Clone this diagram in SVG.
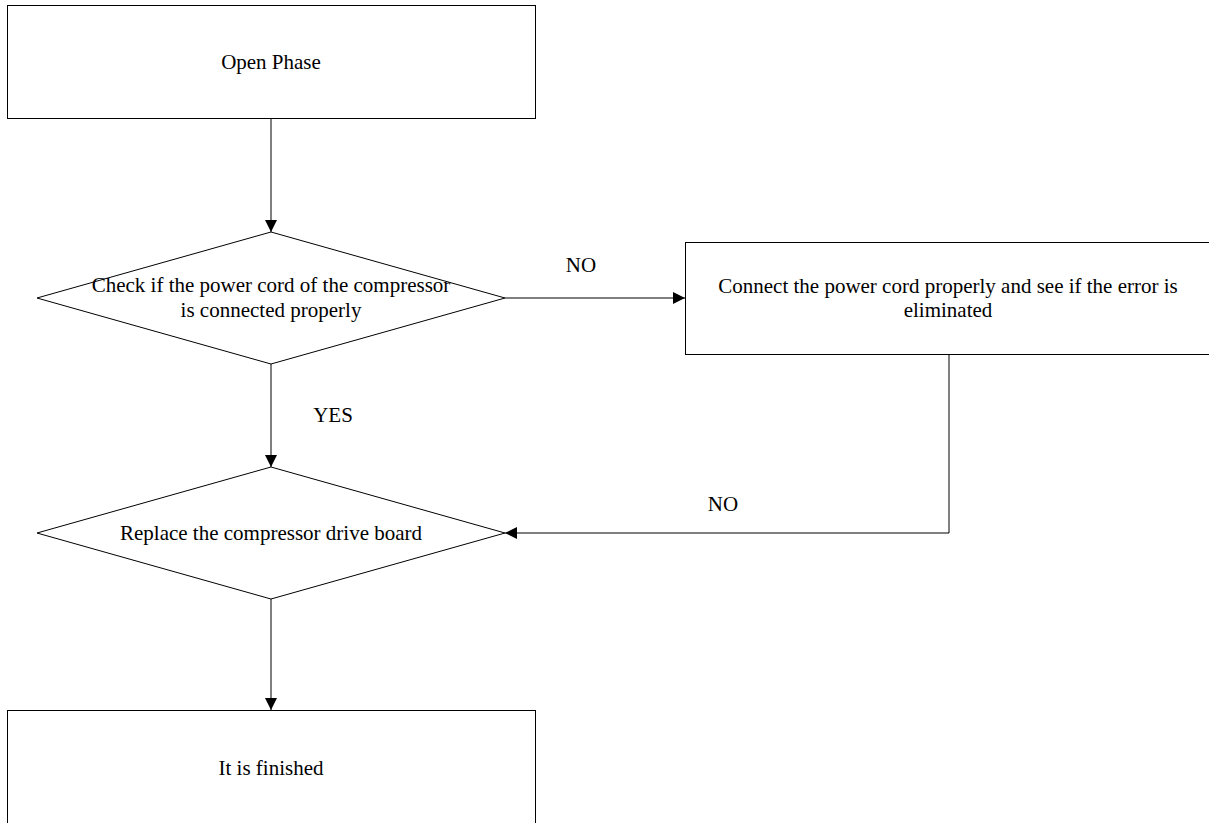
<svg xmlns="http://www.w3.org/2000/svg" width="1209" height="823" viewBox="0 0 1209 823">
<style>
.n{fill:#fff;stroke:#000;stroke-width:1}
.t{font-family:"Liberation Serif","Times New Roman",serif;font-size:21px;fill:#000;text-anchor:middle}
.c{fill:none;stroke:#000;stroke-width:1}
</style>
<defs>
<marker id="ah" markerWidth="12" markerHeight="12" refX="12" refY="6" orient="auto" markerUnits="userSpaceOnUse">
<path d="M0,0 L12,6 L0,12 Z" fill="#000"/>
</marker>
</defs>
<rect width="1209" height="823" fill="#fff"/>
<g id="connectors">
<line class="c" x1="271" y1="118" x2="271" y2="232" marker-end="url(#ah)"/>
<line class="c" x1="505" y1="298" x2="685" y2="298" marker-end="url(#ah)"/>
<line class="c" x1="271" y1="364" x2="271" y2="467" marker-end="url(#ah)"/>
<polyline class="c" points="949,354 949,533 505,533" marker-end="url(#ah)"/>
<line class="c" x1="271" y1="599" x2="271" y2="710" marker-end="url(#ah)"/>
<text class="t" x="581" y="272">NO</text>
<text class="t" x="333" y="422">YES</text>
<text class="t" x="723" y="511">NO</text>
</g>
<g id="open-phase">
<rect class="n" x="7.5" y="5.5" width="528" height="113"/>
<text class="t" x="271" y="69">Open Phase</text>
</g>
<g id="check-cord">
<polygon class="n" points="271,232 505,298 271,364 37,298"/>
<text class="t" x="271" y="292">Check if the power cord of the compressor</text>
<text class="t" x="271" y="317">is connected properly</text>
</g>
<g id="connect-cord">
<rect class="n" x="685.5" y="242.5" width="530" height="112"/>
<text class="t" x="948" y="293">Connect the power cord properly and see if the error is</text>
<text class="t" x="948" y="317">eliminated</text>
</g>
<g id="replace-board">
<polygon class="n" points="271,467 505,533 271,599 37,533"/>
<text class="t" x="271" y="540">Replace the compressor drive board</text>
</g>
<g id="finished">
<rect class="n" x="7.5" y="710.5" width="528" height="120"/>
<text class="t" x="271" y="775">It is finished</text>
</g>
</svg>
